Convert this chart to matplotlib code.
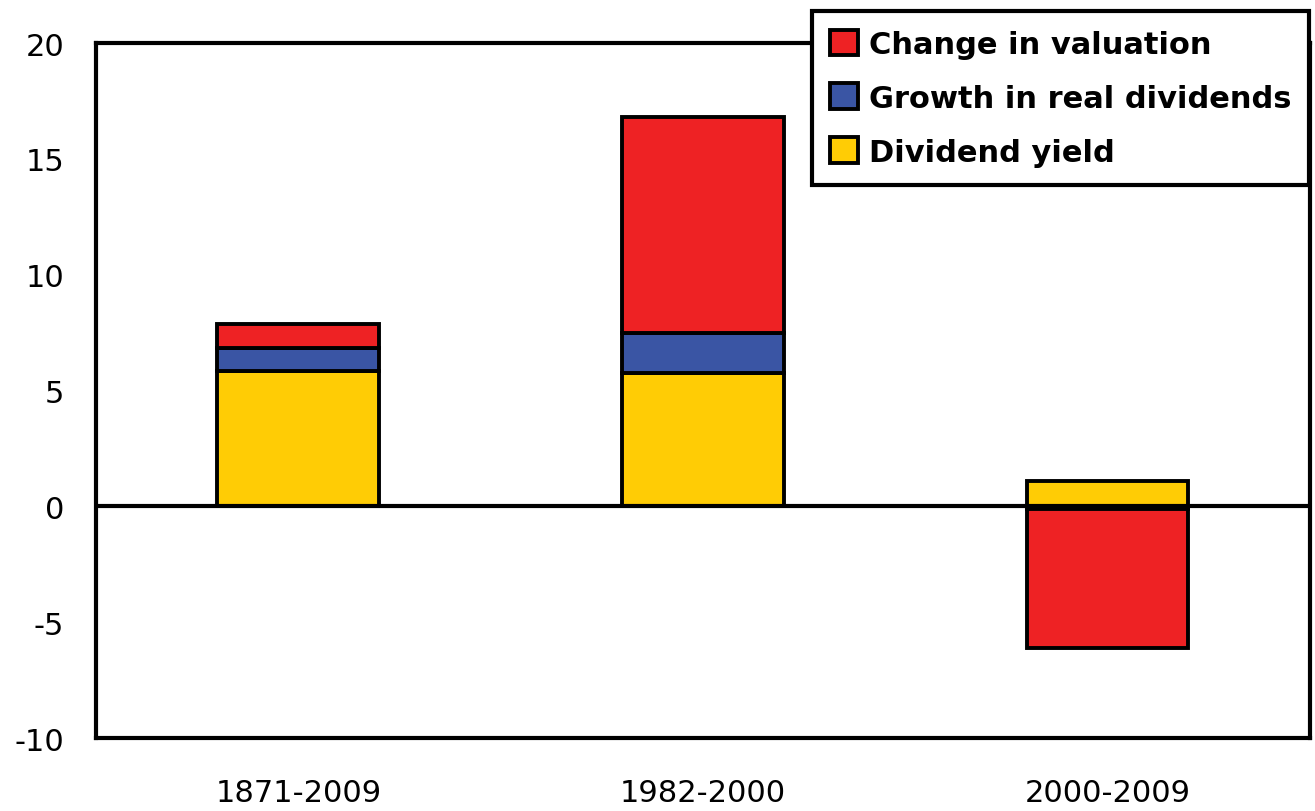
import numpy as np
import matplotlib.pyplot as plt

plt.rcParams["axes.unicode_minus"] = False

# data (percent per year)
periods = ["1871-2009", "1982-2000", "2000-2009"]
dividend_yield = [5.85, 5.75, 1.1]
real_div_growth = [1.0, 1.75, -0.1]
valuation_change = [1.0, 9.3, -6.0]

series = [
    ("Dividend yield", dividend_yield, "#FFCC05"),
    ("Growth in real dividends", real_div_growth, "#3A55A4"),
    ("Change in valuation", valuation_change, "#EE2224"),
]

fig = plt.figure(figsize=(13.15, 8.12), dpi=100)
ax = fig.add_axes([0.073, 0.0899, 0.923, 0.8559])

x = np.arange(len(periods))
pos_base = np.zeros(len(periods))
neg_base = np.zeros(len(periods))
handles = []
for name, vals, col in series:
    vals = np.array(vals)
    bottoms = np.where(vals >= 0, pos_base, neg_base)
    b = ax.bar(x, vals, 0.4, bottom=bottoms, color=col, edgecolor="black",
               linewidth=2.8, label=name, zorder=2)
    handles.append(b)
    pos_base += np.where(vals >= 0, vals, 0)
    neg_base += np.where(vals < 0, vals, 0)

ax.axhline(0, color="black", linewidth=3, zorder=3)

ax.set_xlim(-0.5, 2.5)
ax.set_ylim(-10, 20)
ax.set_yticks([-10, -5, 0, 5, 10, 15, 20])
ax.set_xticks(x)
ax.set_xticklabels(periods)
ax.tick_params(axis="y", length=0, pad=23, labelsize=22)
ax.tick_params(axis="x", length=0, pad=29, labelsize=22)
for s in ax.spines.values():
    s.set_linewidth(3)

leg = fig.legend(handles[::-1], [h.get_label() for h in handles[::-1]],
                 loc="upper left", bbox_to_anchor=(0.6175, 0.985),
                 bbox_transform=fig.transFigure, borderaxespad=0,
                 fancybox=False, framealpha=1, edgecolor="black",
                 handlelength=0.92, handleheight=0.92, handletextpad=0.33,
                 labelspacing=0.8, borderpad=0.6,
                 prop={"weight": "bold", "size": 22})
leg.get_frame().set_linewidth(3)

fig.savefig("out.png", dpi=100)
